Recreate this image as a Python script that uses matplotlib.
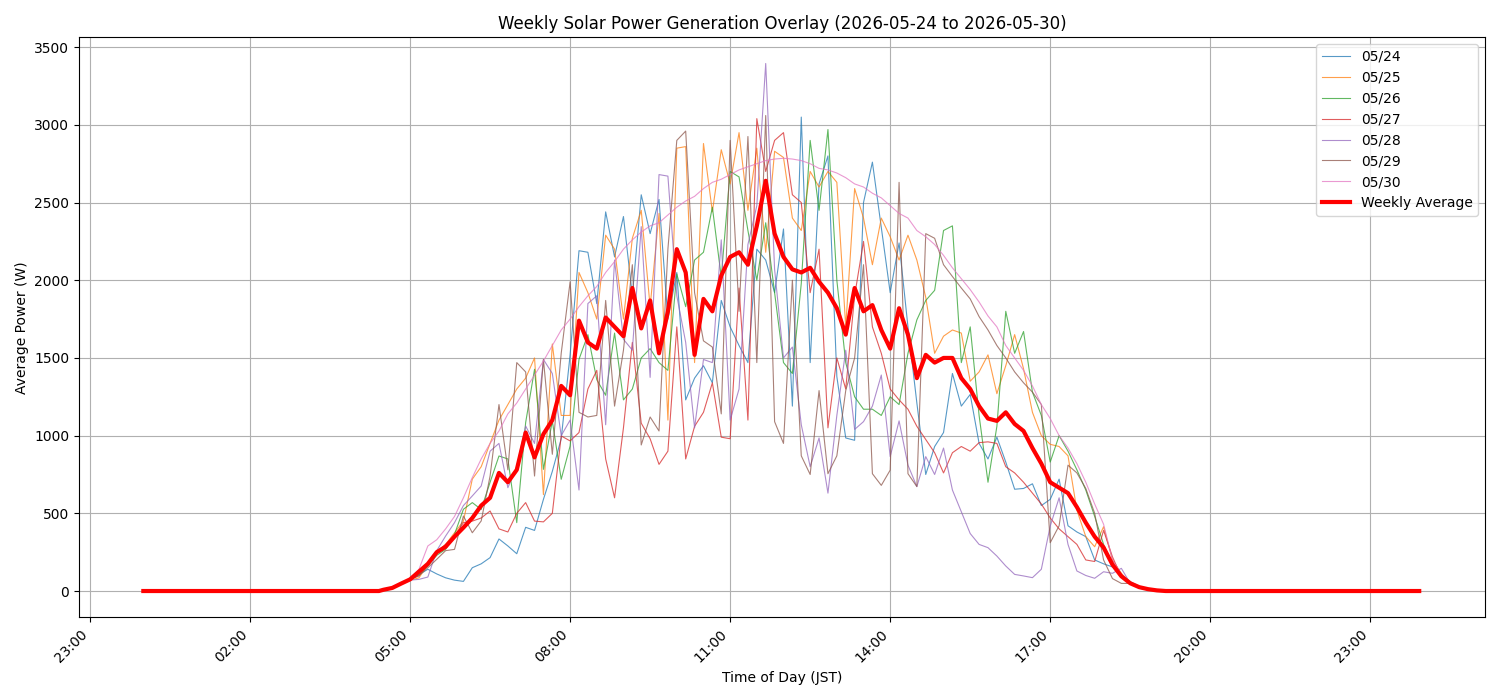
import matplotlib.pyplot as plt
import numpy as np

# time of day in minutes; daylight readings every 10 min from 04:30 to 19:10
t_day = np.arange(270, 1160, 10)
t_am = np.arange(0, 270, 5)
t_pm = np.arange(1165, 1440, 5)

days = ['05/24', '05/25', '05/26', '05/27', '05/28', '05/29', '05/30']

d24 = [5, 20, 45,
       75, 105, 140, 110, 85, 70,
       62, 150, 175, 215, 335, 290,
       240, 410, 390, 590, 770, 980,
       1520, 2190, 2180, 1850, 2440, 2150,
       2410, 1900, 2550, 2300, 2520, 1750,
       2050, 1230, 1370, 1450, 1340, 1870,
       1700, 1580, 1470, 2200, 2130, 1920,
       2330, 1190, 3050, 1470, 2620, 2800,
       1380, 985, 970, 2500, 2760, 2340,
       1920, 2240, 1700, 1210, 750, 930,
       1020, 1400, 1190, 1265, 950, 850,
       990, 830, 655, 660, 690, 550,
       590, 720, 420, 380, 350, 200,
       175, 155, 100, 60, 30, 10,
       0, 0]
d25 = [5, 20, 45,
       70, 85, 170, 250, 300, 375,
       450, 720, 800, 950, 1100, 1200,
       1300, 1370, 1500, 620, 1590, 1130,
       1130, 2050, 1920, 1750, 2290, 2200,
       1750, 2270, 2450, 1830, 2430, 1100,
       2850, 2860, 1470, 2880, 2440, 2840,
       2620, 2950, 2450, 2850, 2180, 2830,
       2790, 2400, 2320, 2700, 2600, 2700,
       2630, 1700, 2590, 2400, 2100, 2400,
       2280, 2130, 2290, 2130, 1890, 1530,
       1640, 1680, 1660, 1350, 1410, 1520,
       1270, 1450, 1650, 1430, 1150, 1000,
       944, 930, 870, 520, 350, 285,
       414, 200, 114, 50, 20, 8,
       0, 0]
d26 = [5, 20, 45,
       75, 107, 161, 230, 268, 365,
       526, 569, 525, 700, 869, 850,
       440, 1084, 1427, 783, 1094, 719,
       933, 1491, 1650, 1360, 1260, 1660,
       1230, 1300, 1500, 1560, 1470, 1420,
       2040, 1830, 2130, 2180, 2470, 2020,
       2700, 2665, 2320, 2000, 2370, 1920,
       1470, 1400, 1980, 2900, 2450, 2970,
       2000, 1470, 1250, 1170, 1170, 1130,
       1250, 1200, 1530, 1745, 1870, 1935,
       2320, 2350, 1470, 1700, 1130, 700,
       1060, 1800, 1530, 1670, 1280, 1130,
       830, 1000, 900, 780, 650, 480,
       300, 170, 100, 50, 25, 10,
       0, 0]
d27 = [5, 20, 45,
       75, 97, 170, 247, 300, 354,
       440, 450, 470, 515, 400, 380,
       500, 569, 450, 445, 500, 998,
       966, 1020, 1300, 1420, 850, 600,
       1050, 1600, 1080, 980, 815, 900,
       1700, 850, 1060, 1150, 1340, 990,
       980, 1950, 1100, 3040, 2700, 2900,
       2950, 2550, 2500, 1920, 2200, 1050,
       1500, 1300, 1900, 2250, 1700, 1530,
       1300, 1230, 1170, 1060, 975, 890,
       760, 890, 930, 900, 955, 960,
       950, 800, 760, 700, 630, 560,
       470, 400, 350, 300, 200, 190,
       390, 220, 92, 49, 20, 8,
       0, 0]
d28 = [5, 20, 45,
       70, 75, 90, 260, 354, 440,
       550, 612, 676, 900, 950, 665,
       800, 1062, 950, 1490, 1400, 1000,
       1100, 650, 1850, 1900, 1070, 2130,
       1620, 1550, 2345, 1375, 2680, 2670,
       1900, 1600, 1050, 1490, 1470, 2260,
       1100, 1300, 2230, 2480, 3395, 2070,
       1500, 1570, 1070, 800, 985, 630,
       1130, 1550, 1040, 1090, 1190, 1390,
       865, 1095, 810, 672, 865, 750,
       920, 650, 510, 370, 300, 279,
       225, 161, 107, 97, 86, 140,
       418, 600, 300, 129, 100, 82,
       124, 114, 146, 49, 20, 8,
       0, 0]
d29 = [5, 20, 45,
       75, 100, 150, 204, 260, 268,
       483, 375, 451, 740, 1200, 780,
       1470, 1410, 740, 1490, 880, 1530,
       1990, 1150, 1120, 1130, 1870, 1190,
       1550, 2100, 940, 1120, 1030, 2200,
       2900, 2960, 1920, 1610, 1570, 1140,
       2900, 1800, 2925, 1470, 3060, 1090,
       950, 2000, 870, 750, 1290, 755,
       870, 1290, 1500, 2100, 755, 680,
       778, 2630, 755, 672, 2300, 2270,
       2100, 2024, 1950, 1880, 1766, 1680,
       1580, 1500, 1410, 1340, 1280, 1200,
       311, 420, 810, 760, 660, 500,
       200, 80, 49, 49, 25, 10,
       0, 0]
d30 = [5, 20, 45,
       80, 140, 290, 330, 400, 480,
       600, 730, 850, 950, 1030, 1140,
       1210, 1300, 1390, 1480, 1580, 1680,
       1750, 1830, 1900, 1960, 2050, 2120,
       2200, 2260, 2310, 2350, 2370, 2420,
       2470, 2510, 2540, 2590, 2630, 2650,
       2680, 2710, 2730, 2750, 2770, 2780,
       2785, 2780, 2770, 2750, 2720, 2710,
       2690, 2660, 2620, 2600, 2560, 2530,
       2480, 2430, 2400, 2320, 2280, 2230,
       2160, 2080, 2010, 1940, 1860, 1770,
       1700, 1580, 1500, 1420, 1320, 1200,
       1110, 1000, 920, 820, 700, 560,
       430, 200, 110, 50, 20, 5,
       0, 0]
weekly_avg = [8, 20, 48,
              75, 125, 175, 250, 285, 350,
              408, 470, 550, 600, 760, 700,
              780, 1020, 860, 1010, 1100, 1320,
              1260, 1740, 1600, 1560, 1760, 1700,
              1640, 1950, 1690, 1870, 1530, 1800,
              2200, 2050, 1520, 1880, 1800, 2030,
              2150, 2180, 2100, 2350, 2640, 2300,
              2150, 2070, 2050, 2080, 1990, 1920,
              1820, 1650, 1950, 1800, 1840, 1680,
              1560, 1820, 1650, 1370, 1520, 1470,
              1500, 1500, 1370, 1300, 1190, 1110,
              1095, 1150, 1075, 1030, 920, 820,
              700, 665, 630, 540, 440, 350,
              280, 170, 95, 50, 25, 12,
              4, 0]

tick_hours = [-1, 2, 5, 8, 11, 14, 17, 20, 23]
tick_labels = ['23:00', '02:00', '05:00', '08:00', '11:00', '14:00', '17:00', '20:00', '23:00']

t = np.concatenate([t_am, t_day, t_pm]) / 60.0
night_am = np.zeros(len(t_am))
night_pm = np.zeros(len(t_pm))

def full(vals):
    return np.concatenate([night_am, np.array(vals, dtype=float), night_pm])

fig, ax = plt.subplots(figsize=(15, 7), dpi=100)
for lab, vals in zip(days, [d24, d25, d26, d27, d28, d29, d30]):
    ax.plot(t, full(vals), linewidth=0.8, alpha=0.75, label=lab)
ax.plot(t, full(weekly_avg), color='red', linewidth=3, label='Weekly Average')

ax.set_xlim(-72.3 / 60, 1509 / 60)
ax.set_xticks(tick_hours)
ax.set_xticklabels(tick_labels, rotation=45, ha='right')
ax.set_xlabel('Time of Day (JST)')
ax.set_ylabel('Average Power (W)')
ax.set_title('Weekly Solar Power Generation Overlay (2026-05-24 to 2026-05-30)')
ax.grid(True)
ax.legend(loc='upper right')

plt.subplots_adjust(left=0.0527, right=0.99, top=0.947, bottom=0.118)
plt.savefig('out.png', dpi=100)
